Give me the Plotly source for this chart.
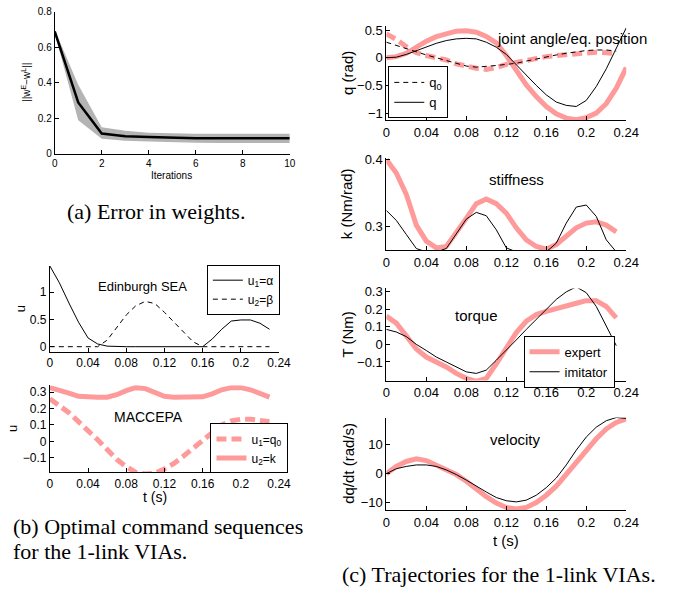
import plotly.graph_objects as go

W, H = 689, 595

# ---------------- (a) Error in weights ----------------
iters = [0, 1, 2, 3, 4, 5, 6, 7, 8, 9, 10]
err_mean = [0.69, 0.29, 0.115, 0.10, 0.095, 0.09, 0.088, 0.088, 0.088, 0.088, 0.088]
err_hi = [0.70, 0.39, 0.15, 0.13, 0.12, 0.115, 0.114, 0.114, 0.114, 0.114, 0.114]
err_lo = [0.68, 0.19, 0.085, 0.075, 0.07, 0.065, 0.063, 0.062, 0.062, 0.062, 0.062]

# ---------------- (b) command sequences ----------------
t_cmd = [0, 0.01, 0.02, 0.03, 0.04, 0.05, 0.06, 0.07, 0.08, 0.09, 0.10, 0.11,
         0.12, 0.13, 0.14, 0.15, 0.16, 0.17, 0.18, 0.19, 0.20, 0.21, 0.22, 0.23]
sea_alpha = [1.48, 1.17, 0.80, 0.45, 0.16, 0.05, 0.01, 0, 0, 0, 0, 0,
             0, 0, 0, 0, 0, 0.14, 0.32, 0.47, 0.49, 0.49, 0.43, 0.32]
sea_beta = [0, 0, 0, 0, 0, 0, 0.12, 0.36, 0.58, 0.75, 0.83, 0.79,
            0.63, 0.45, 0.27, 0.09, 0, 0, 0, 0, 0, 0, 0, 0]
mac_q0 = [0.26, 0.22, 0.175, 0.12, 0.07, 0.01, -0.05, -0.11, -0.155, -0.19, -0.20, -0.195,
          -0.17, -0.135, -0.09, -0.04, 0.01, 0.06, 0.10, 0.125, 0.135, 0.135, 0.13, 0.12]
mac_k = [0.328, 0.315, 0.295, 0.275, 0.27, 0.27, 0.27, 0.285, 0.31, 0.328, 0.322, 0.30,
         0.275, 0.27, 0.27, 0.27, 0.272, 0.29, 0.315, 0.328, 0.328, 0.315, 0.292, 0.27]

# ---------------- (c) trajectories ----------------
t_long = [0, 0.01, 0.02, 0.03, 0.04, 0.05, 0.06, 0.07, 0.08, 0.09, 0.10, 0.11, 0.12,
          0.13, 0.14, 0.15, 0.16, 0.17, 0.18, 0.19, 0.20, 0.21, 0.22, 0.23, 0.24]
exp_q = [0.0, 0.02, 0.08, 0.2, 0.3, 0.38, 0.44, 0.48, 0.485, 0.46, 0.385, 0.27, 0.04,
         -0.22, -0.49, -0.7, -0.88, -1.01, -1.09, -1.12, -1.08, -1.0, -0.83, -0.55, -0.18]
imit_q = [0.0, 0.01, 0.06, 0.13, 0.2, 0.26, 0.31, 0.34, 0.35, 0.34, 0.28, 0.19, 0.06,
          -0.13, -0.32, -0.5, -0.67, -0.8, -0.86, -0.88, -0.77, -0.52, -0.2, 0.16, 0.54]
exp_q0 = [0.43, 0.33, 0.2, 0.09, 0.04, 0.01, -0.04, -0.11, -0.16, -0.19, -0.21, -0.18,
          -0.12, -0.08, -0.04, -0.01, 0.02, 0.04, 0.06, 0.08, 0.10, 0.10, 0.09, 0.07]
imit_q0 = [0.28, 0.22, 0.16, 0.10, 0.05, 0.0, -0.05, -0.10, -0.15, -0.17, -0.16, -0.14,
           -0.12, -0.10, -0.06, -0.02, 0.02, 0.05, 0.08, 0.11, 0.13, 0.14, 0.14, 0.12]
exp_k = [0.40, 0.38, 0.348, 0.302, 0.278, 0.268, 0.27, 0.29, 0.312, 0.334, 0.341, 0.334,
         0.32, 0.298, 0.28, 0.27, 0.266, 0.273, 0.285, 0.298, 0.305, 0.307, 0.302, 0.292]
imit_k = [0.324, 0.309, 0.288, 0.267, 0.262, 0.262, 0.267, 0.29, 0.311, 0.321, 0.316, 0.295,
          0.268, 0.262, 0.262, 0.262, 0.262, 0.275, 0.305, 0.329, 0.332, 0.315, 0.28, 0.262]
exp_T = [0.16, 0.12, 0.048, -0.026, -0.072, -0.10, -0.128, -0.165, -0.193, -0.21, -0.193, -0.11,
         -0.017, 0.067, 0.131, 0.169, 0.187, 0.20, 0.215, 0.233, 0.248, 0.248, 0.215, 0.15]
imit_T = [0.085, 0.07, 0.044, 0.0, -0.035, -0.072, -0.10, -0.128, -0.156, -0.165, -0.146, -0.09,
          -0.035, 0.025, 0.085, 0.14, 0.20, 0.255, 0.298, 0.326, 0.293, 0.215, 0.104, -0.007]
exp_v = [0, 2.5, 4.2, 5.1, 4.5, 3.0, 1.3, -0.3, -2.6, -5.4, -7.9, -10.1, -11.6,
         -12.1, -11.6, -9.9, -7.4, -4.3, -0.3, 3.6, 8.1, 12.0, 15.4, 17.6, 18.8]
imit_v = [0, 1.7, 2.5, 3.0, 3.0, 2.5, 1.3, -0.3, -2.2, -4.3, -6.3, -8.2, -9.3,
          -9.7, -9.1, -7.4, -4.8, -1.5, 3.0, 8.1, 12.6, 16.0, 18.2, 19.3, 19.0]

t_ticks = [0, 0.04, 0.08, 0.12, 0.16, 0.2, 0.24]
t_ticktext = ["0", "0.04", "0.08", "0.12", "0.16", "0.2", "0.24"]

PINK = "#ff9a9a"
SANS = "Liberation Sans, Arial, Helvetica, sans-serif"
SERIF = "Liberation Serif, Times New Roman, serif"

fig = go.Figure()

# (a)
fig.add_trace(go.Scatter(x=iters, y=err_hi, mode="lines", line=dict(width=0, color="#b4b4b4"),
                         showlegend=False, xaxis="x", yaxis="y", hoverinfo="skip"))
fig.add_trace(go.Scatter(x=iters, y=err_lo, mode="lines", line=dict(width=0, color="#b4b4b4"),
                         fill="tonexty", fillcolor="#b4b4b4", showlegend=False,
                         xaxis="x", yaxis="y", hoverinfo="skip"))
fig.add_trace(go.Scatter(x=iters, y=err_mean, mode="lines", line=dict(width=2.5, color="black"),
                         showlegend=False, xaxis="x", yaxis="y"))

# (b) top: Edinburgh SEA
fig.add_trace(go.Scatter(x=t_cmd, y=sea_alpha, mode="lines", name="u<sub>1</sub>=α",
                         line=dict(width=1, color="black"), xaxis="x2", yaxis="y2", legend="legend"))
fig.add_trace(go.Scatter(x=t_cmd, y=sea_beta, mode="lines", name="u<sub>2</sub>=β",
                         line=dict(width=1, color="black", dash="5px,4px"), xaxis="x2", yaxis="y2",
                         legend="legend"))

# (b) bottom: MACCEPA
fig.add_trace(go.Scatter(x=t_cmd, y=mac_q0, mode="lines", name="u<sub>1</sub>=q<sub>0</sub>",
                         line=dict(width=5, color=PINK, dash="10px,5px"), xaxis="x3", yaxis="y3",
                         legend="legend2"))
fig.add_trace(go.Scatter(x=t_cmd, y=mac_k, mode="lines", name="u<sub>2</sub>=k",
                         line=dict(width=5, color=PINK), xaxis="x3", yaxis="y3", legend="legend2"))

# (c) joint angle
fig.add_trace(go.Scatter(x=t_long, y=exp_q, mode="lines", line=dict(width=5, color=PINK),
                         showlegend=False, xaxis="x4", yaxis="y4"))
fig.add_trace(go.Scatter(x=t_cmd, y=exp_q0, mode="lines", line=dict(width=5, color=PINK, dash="10px,5px"),
                         showlegend=False, xaxis="x4", yaxis="y4"))
fig.add_trace(go.Scatter(x=t_cmd, y=imit_q0, mode="lines", name="q<sub>0</sub>",
                         line=dict(width=1, color="black", dash="5px,4px"), xaxis="x4", yaxis="y4",
                         legend="legend3"))
fig.add_trace(go.Scatter(x=t_long, y=imit_q, mode="lines", name="q",
                         line=dict(width=1, color="black"), xaxis="x4", yaxis="y4", legend="legend3"))

# (c) stiffness
fig.add_trace(go.Scatter(x=t_cmd, y=exp_k, mode="lines", line=dict(width=5, color=PINK),
                         showlegend=False, xaxis="x5", yaxis="y5"))
fig.add_trace(go.Scatter(x=t_cmd, y=imit_k, mode="lines", line=dict(width=1, color="black"),
                         showlegend=False, xaxis="x5", yaxis="y5"))

# (c) torque
fig.add_trace(go.Scatter(x=t_cmd, y=exp_T, mode="lines", name="expert",
                         line=dict(width=5, color=PINK), xaxis="x6", yaxis="y6", legend="legend4"))
fig.add_trace(go.Scatter(x=t_cmd, y=imit_T, mode="lines", name="imitator",
                         line=dict(width=1, color="black"), xaxis="x6", yaxis="y6", legend="legend4"))

# (c) velocity
fig.add_trace(go.Scatter(x=t_long, y=exp_v, mode="lines", line=dict(width=5, color=PINK),
                         showlegend=False, xaxis="x7", yaxis="y7"))
fig.add_trace(go.Scatter(x=t_long, y=imit_v, mode="lines", line=dict(width=1, color="black"),
                         showlegend=False, xaxis="x7", yaxis="y7"))


def px_x(p):
    return p / W


def px_y(p):
    return 1 - p / H


def axis(dom, rng, tickvals, ticktext, size, anchor, horizontal):
    d = dict(range=rng, tickvals=tickvals, ticktext=ticktext, showline=True, linecolor="black",
             linewidth=1, ticks="inside", ticklen=4, tickcolor="black", tickwidth=1,
             showgrid=False, zeroline=False, anchor=anchor, fixedrange=True,
             tickfont=dict(family=SANS, size=size, color="black"))
    if horizontal:
        d["domain"] = [px_x(dom[0]), px_x(dom[1])]
    else:
        d["domain"] = [px_y(dom[1]), px_y(dom[0])]
    return d


RX = (392, 638)
BX = (47, 282)
layout = dict(
    width=W, height=H, margin=dict(l=0, r=0, t=0, b=0),
    paper_bgcolor="white", plot_bgcolor="white",
    xaxis=axis((52, 293), [0, 10], iters[::2], [str(v) for v in iters[::2]], 10, "y", True),
    yaxis=axis((6, 151), [0, 0.8], [0, 0.2, 0.4, 0.6, 0.8], ["0", "0.2", "0.4", "0.6", "0.8"], 10, "x", False),
    xaxis2=axis(BX, [0, 0.24], t_ticks, t_ticktext, 12, "y2", True),
    yaxis2=axis((265, 353), [-0.095, 1.485], [0, 0.5, 1], ["0", "0.5", "1"], 12, "x2", False),
    xaxis3=axis(BX, [0, 0.24], t_ticks, t_ticktext, 12, "y3", True),
    yaxis3=axis((387, 476), [-0.19, 0.343], [-0.1, 0, 0.1, 0.2, 0.3], ["−0.1", "0", "0.1", "0.2", "0.3"], 12, "x3", False),
    xaxis4=axis(RX, [0, 0.24], t_ticks, t_ticktext, 13, "y4", True),
    yaxis4=axis((20, 116.7), [-1.13, 0.58], [-1, -0.5, 0, 0.5], ["−1", "−0.5", "0", "0.5"], 13, "x4", False),
    xaxis5=axis(RX, [0, 0.24], t_ticks, t_ticktext, 13, "y5", True),
    yaxis5=axis((155, 249.3), [0.2644, 0.4025], [0.3, 0.4], ["0.3", "0.4"], 13, "x5", False),
    xaxis6=axis(RX, [0, 0.24], t_ticks, t_ticktext, 13, "y6", True),
    yaxis6=axis((288.3, 382.3), [-0.2056, 0.317], [-0.1, 0, 0.1, 0.2, 0.3], ["−0.1", "0", "0.1", "0.2", "0.3"], 13, "x6", False),
    xaxis7=axis(RX, [0, 0.24], t_ticks, t_ticktext, 13, "y7", True),
    yaxis7=axis((420, 514.3), [-12.46, 19.3], [-10, 0, 10], ["−10", "0", "10"], 13, "x7", False),
)


def leg(x, y, size):
    return dict(x=px_x(x), y=px_y(y), xanchor="left", yanchor="top", bordercolor="black",
                borderwidth=1, bgcolor="white", font=dict(family=SANS, size=size, color="black"),
                itemwidth=30, tracegroupgap=0, traceorder="normal")


layout["legend"] = leg(208, 264, 12)
layout["legend2"] = leg(211.7, 426, 12)
layout["legend3"] = leg(394, 61.7, 13)
layout["legend4"] = leg(532.7, 336.7, 13)

ann = []


def text(x, y, s, size, family=SANS, angle=0, xanchor="center"):
    ann.append(dict(x=px_x(x), y=px_y(y), xref="paper", yref="paper", text=s, showarrow=False,
                    xanchor=xanchor, yanchor="middle", textangle=angle,
                    font=dict(family=family, size=size, color="black")))


# axis titles
text(23, 78, "||w<sup>E</sup>−w<sup>L</sup>||", 10, angle=-90)
text(172, 173, "Iterations", 10)
text(17, 309, "u", 13, angle=-90)
text(9, 431, "u", 13, angle=-90)
text(155, 501, "t (s)", 14)
text(352, 68, "q (rad)", 15, angle=-90)
text(352, 202, "k (Nm/rad)", 15, angle=-90)
text(352, 335, "T (Nm)", 15, angle=-90)
text(353, 467, "dq/dt (rad/s)", 15, angle=-90)
text(515, 546, "t (s)", 15)

# in-plot labels
text(142, 286, "Edinburgh SEA", 13)
text(148, 419, "MACCEPA", 14)
text(582, 33, "joint angle/eq. position", 15)
text(525, 177, "stiffness", 15)
text(484, 316, "torque", 15)
text(524, 442, "velocity", 15)

# captions
text(156, 210, "(a) Error in weights.", 22, family=SERIF)
text(7, 531, "(b) Optimal command sequences", 22, family=SERIF, xanchor="left")
text(7, 557, "for the 1-link VIAs.", 22, family=SERIF, xanchor="left")
text(345, 580, "(c) Trajectories for the 1-link VIAs.", 22, family=SERIF, xanchor="left")

layout["annotations"] = ann
fig.update_layout(**layout)
fig.write_html("out.html", config={"displayModeBar": False},
               post_script="document.body.style.margin='0';")
